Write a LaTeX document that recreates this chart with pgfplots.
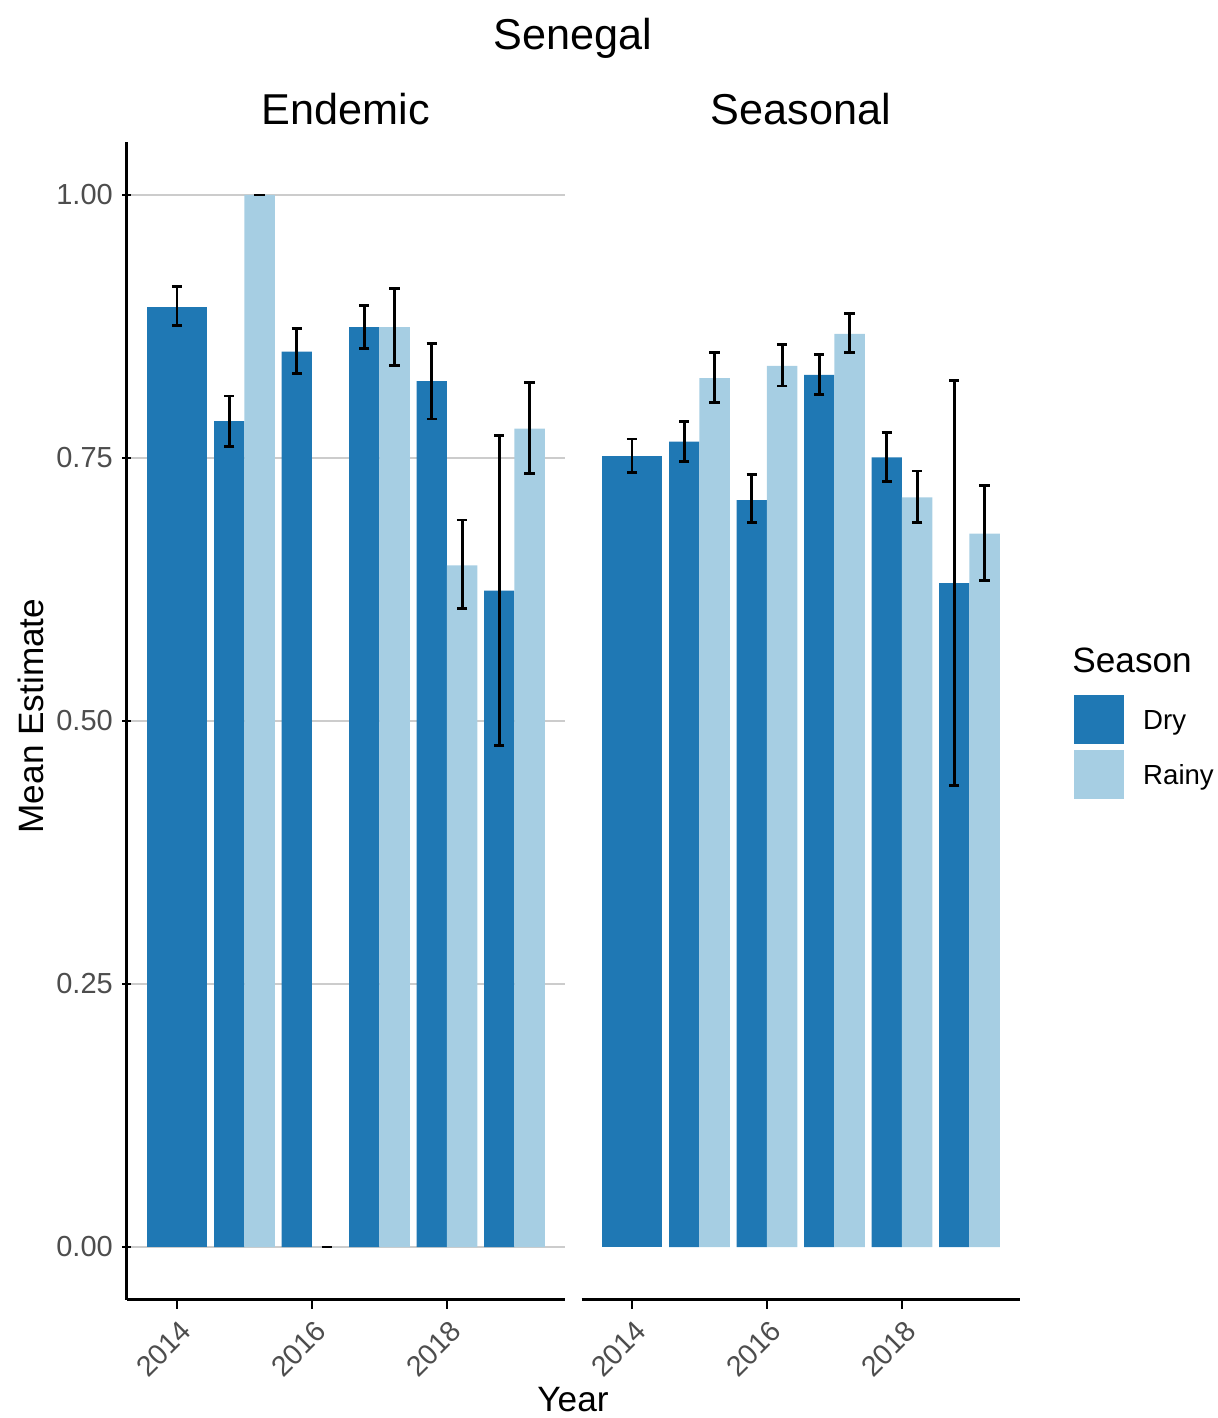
\documentclass[border=0pt]{standalone}
\usepackage{pgfplots}
\pgfplotsset{compat=1.18}
\usepackage{fontspec}
\setmainfont{Liberation Sans}
\definecolor{dryc}{HTML}{1F78B4}
\definecolor{rainyc}{HTML}{A6CEE3}
\definecolor{gridc}{HTML}{CCCCCC}
\definecolor{tickc}{HTML}{4D4D4D}
\pgfplotsset{
  panel/.style={
    scale only axis, width=219pt, height=578.6pt,
    xmin=2013.255, xmax=2019.745, ymin=-0.05, ymax=1.05,
    axis x line=bottom,
    xtick={2014,2016,2018}, xticklabels={2014,2016,2018},
    ytick={0,0.25,0.5,0.75,1},
    ymajorgrids, major grid style={gridc, line width=1.3pt},
    tick style={black, line width=1.2pt}, tick align=outside, major tick length=4.5pt,
    xticklabel style={xshift=1pt, yshift=-5pt, rotate=45, anchor=north east, inner sep=0pt, text=tickc, font=\fontsize{14.3}{16}\selectfont},
    yticklabel style={anchor=east, inner sep=0pt, xshift=-4.5pt, text=tickc, font=\fontsize{14.5}{16}\selectfont},
    ybar, bar width=0.45, bar shift=0pt,
  },
  errstyle/.style={error bars/y dir=both, error bars/y explicit,
    error bars/error bar style={black, line width=1.4pt},
    error bars/error mark options={black, rotate=90, mark size=2.6pt, line width=1.4pt}},
}
\begin{document}
\begin{tikzpicture}
\useasboundingbox (0,0) rectangle (608.5pt,709pt);
% Endemic
\begin{axis}[panel, at={(63.35pt,59.2pt)}, anchor=south west,
  axis y line=left, yticklabels={0.00,0.25,0.50,0.75,1.00},
  axis line style={-, black, line width=1.2pt}]
\addplot[fill=dryc, draw=none, bar width=0.9, errstyle] coordinates {
  (2014,0.894) += (0,0.019) -= (0,0.018)
};
\addplot[fill=dryc, draw=none, errstyle] coordinates {
  (2014.775,0.785) += (0,0.024) -= (0,0.024)
  (2015.775,0.851) += (0,0.022) -= (0,0.021)
  (2016.775,0.8745) += (0,0.0205) -= (0,0.0205)
  (2017.775,0.823) += (0,0.036) -= (0,0.036)
  (2018.775,0.624) += (0,0.147) -= (0,0.147)
};
\addplot[fill=rainyc, draw=none, errstyle] coordinates {
  (2015.225,1.000) += (0,0) -= (0,0)
  (2016.225,0.000) += (0,0) -= (0,0)
  (2017.225,0.8745) += (0,0.0365) -= (0,0.0365)
  (2018.225,0.648) += (0,0.043) -= (0,0.041)
  (2019.225,0.778) += (0,0.044) -= (0,0.043)
};
\end{axis}
% Seasonal
\begin{axis}[panel, at={(290.85pt,59.2pt)}, anchor=south west,
  axis y line=none, yticklabels={},
  axis line style={-, black, line width=1.2pt},
  legend style={at={(axis description cs:1.124,0.5225)}, anchor=north west,
    draw=none, fill=none, inner sep=0pt, row sep=2.75pt, column sep=9.5pt,
    font=\fontsize{13.8}{16}\selectfont, nodes={inner sep=0pt, text=black}},
  legend cell align=left]
\addplot[forget plot, fill=dryc, draw=none, bar width=0.9, errstyle] coordinates {
  (2014,0.752) += (0,0.016) -= (0,0.016)
};
\addplot[forget plot, fill=dryc, draw=none, errstyle] coordinates {
  (2014.775,0.7655) += (0,0.0195) -= (0,0.0185)
  (2015.775,0.710) += (0,0.024) -= (0,0.0215)
  (2016.775,0.829) += (0,0.0195) -= (0,0.019)
  (2017.775,0.7506) += (0,0.0236) -= (0,0.023)
  (2018.775,0.631) += (0,0.193) -= (0,0.192)
};
\addplot[forget plot, fill=rainyc, draw=none, errstyle] coordinates {
  (2015.225,0.826) += (0,0.0245) -= (0,0.023)
  (2016.225,0.8375) += (0,0.020) -= (0,0.019)
  (2017.225,0.868) += (0,0.019) -= (0,0.018)
  (2018.225,0.7126) += (0,0.025) -= (0,0.024)
  (2019.225,0.678) += (0,0.0457) -= (0,0.0443)
};
\addlegendimage{legend image code/.code={\fill[dryc] (0pt,-11.2pt) rectangle (24.5pt,12.8pt);}}
\addlegendentry{Dry}
\addlegendimage{legend image code/.code={\fill[rainyc] (0pt,-11.2pt) rectangle (24.5pt,12.8pt);}}
\addlegendentry{Rainy}
\end{axis}
% texts
\node[anchor=base, font=\fontsize{21.6}{26}\selectfont] at (286.5pt,684pt) {Senegal};
\node[anchor=base, font=\fontsize{21.6}{26}\selectfont] at (173pt,646.5pt) {Endemic};
\node[anchor=base, font=\fontsize{21.6}{26}\selectfont] at (400.5pt,646.5pt) {Seasonal};
\node[anchor=base, font=\fontsize{17.6}{21}\selectfont] at (286.5pt,3pt) {Year};
\node[anchor=base, rotate=90, font=\fontsize{17.6}{21}\selectfont] at (21.5pt,351pt) {Mean Estimate};
\node[anchor=base west, inner sep=0pt, font=\fontsize{17.6}{21}\selectfont] at (536pt,372.5pt) {Season};
\end{tikzpicture}
\end{document}
